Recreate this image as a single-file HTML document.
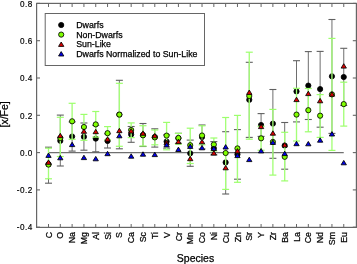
<!DOCTYPE html>
<html><head><meta charset="utf-8"><style>
html,body{margin:0;padding:0;background:#fff;width:357px;height:264px;overflow:hidden}
svg{display:block;will-change:transform}
text{font-family:"Liberation Sans",sans-serif;stroke:#000;stroke-width:0.25px}
</style></head><body><svg width="357" height="264" viewBox="0 0 357 264" font-family="Liberation Sans, sans-serif" fill="#000"><rect x="36.6" y="3.4" width="319.8" height="224" fill="none" stroke="#666" stroke-width="1.2"/><line x1="48.50" y1="227" x2="48.50" y2="224" stroke="#666" stroke-width="1"/><line x1="48.50" y1="4" x2="48.50" y2="7" stroke="#666" stroke-width="1"/><line x1="60.31" y1="227" x2="60.31" y2="224" stroke="#666" stroke-width="1"/><line x1="60.31" y1="4" x2="60.31" y2="7" stroke="#666" stroke-width="1"/><line x1="72.12" y1="227" x2="72.12" y2="224" stroke="#666" stroke-width="1"/><line x1="72.12" y1="4" x2="72.12" y2="7" stroke="#666" stroke-width="1"/><line x1="83.93" y1="227" x2="83.93" y2="224" stroke="#666" stroke-width="1"/><line x1="83.93" y1="4" x2="83.93" y2="7" stroke="#666" stroke-width="1"/><line x1="95.74" y1="227" x2="95.74" y2="224" stroke="#666" stroke-width="1"/><line x1="95.74" y1="4" x2="95.74" y2="7" stroke="#666" stroke-width="1"/><line x1="107.55" y1="227" x2="107.55" y2="224" stroke="#666" stroke-width="1"/><line x1="107.55" y1="4" x2="107.55" y2="7" stroke="#666" stroke-width="1"/><line x1="119.36" y1="227" x2="119.36" y2="224" stroke="#666" stroke-width="1"/><line x1="119.36" y1="4" x2="119.36" y2="7" stroke="#666" stroke-width="1"/><line x1="131.17" y1="227" x2="131.17" y2="224" stroke="#666" stroke-width="1"/><line x1="131.17" y1="4" x2="131.17" y2="7" stroke="#666" stroke-width="1"/><line x1="142.98" y1="227" x2="142.98" y2="224" stroke="#666" stroke-width="1"/><line x1="142.98" y1="4" x2="142.98" y2="7" stroke="#666" stroke-width="1"/><line x1="154.79" y1="227" x2="154.79" y2="224" stroke="#666" stroke-width="1"/><line x1="154.79" y1="4" x2="154.79" y2="7" stroke="#666" stroke-width="1"/><line x1="166.60" y1="227" x2="166.60" y2="224" stroke="#666" stroke-width="1"/><line x1="166.60" y1="4" x2="166.60" y2="7" stroke="#666" stroke-width="1"/><line x1="178.41" y1="227" x2="178.41" y2="224" stroke="#666" stroke-width="1"/><line x1="178.41" y1="4" x2="178.41" y2="7" stroke="#666" stroke-width="1"/><line x1="190.22" y1="227" x2="190.22" y2="224" stroke="#666" stroke-width="1"/><line x1="190.22" y1="4" x2="190.22" y2="7" stroke="#666" stroke-width="1"/><line x1="202.03" y1="227" x2="202.03" y2="224" stroke="#666" stroke-width="1"/><line x1="202.03" y1="4" x2="202.03" y2="7" stroke="#666" stroke-width="1"/><line x1="213.84" y1="227" x2="213.84" y2="224" stroke="#666" stroke-width="1"/><line x1="213.84" y1="4" x2="213.84" y2="7" stroke="#666" stroke-width="1"/><line x1="225.65" y1="227" x2="225.65" y2="224" stroke="#666" stroke-width="1"/><line x1="225.65" y1="4" x2="225.65" y2="7" stroke="#666" stroke-width="1"/><line x1="237.46" y1="227" x2="237.46" y2="224" stroke="#666" stroke-width="1"/><line x1="237.46" y1="4" x2="237.46" y2="7" stroke="#666" stroke-width="1"/><line x1="249.27" y1="227" x2="249.27" y2="224" stroke="#666" stroke-width="1"/><line x1="249.27" y1="4" x2="249.27" y2="7" stroke="#666" stroke-width="1"/><line x1="261.08" y1="227" x2="261.08" y2="224" stroke="#666" stroke-width="1"/><line x1="261.08" y1="4" x2="261.08" y2="7" stroke="#666" stroke-width="1"/><line x1="272.89" y1="227" x2="272.89" y2="224" stroke="#666" stroke-width="1"/><line x1="272.89" y1="4" x2="272.89" y2="7" stroke="#666" stroke-width="1"/><line x1="284.70" y1="227" x2="284.70" y2="224" stroke="#666" stroke-width="1"/><line x1="284.70" y1="4" x2="284.70" y2="7" stroke="#666" stroke-width="1"/><line x1="296.51" y1="227" x2="296.51" y2="224" stroke="#666" stroke-width="1"/><line x1="296.51" y1="4" x2="296.51" y2="7" stroke="#666" stroke-width="1"/><line x1="308.32" y1="227" x2="308.32" y2="224" stroke="#666" stroke-width="1"/><line x1="308.32" y1="4" x2="308.32" y2="7" stroke="#666" stroke-width="1"/><line x1="320.13" y1="227" x2="320.13" y2="224" stroke="#666" stroke-width="1"/><line x1="320.13" y1="4" x2="320.13" y2="7" stroke="#666" stroke-width="1"/><line x1="331.94" y1="227" x2="331.94" y2="224" stroke="#666" stroke-width="1"/><line x1="331.94" y1="4" x2="331.94" y2="7" stroke="#666" stroke-width="1"/><line x1="343.75" y1="227" x2="343.75" y2="224" stroke="#666" stroke-width="1"/><line x1="343.75" y1="4" x2="343.75" y2="7" stroke="#666" stroke-width="1"/><line x1="37" y1="3.40" x2="40" y2="3.40" stroke="#666" stroke-width="1.1"/><line x1="356" y1="3.40" x2="352.8" y2="3.40" stroke="#666" stroke-width="1.1"/><line x1="37" y1="40.70" x2="40" y2="40.70" stroke="#666" stroke-width="1.1"/><line x1="356" y1="40.70" x2="352.8" y2="40.70" stroke="#666" stroke-width="1.1"/><line x1="37" y1="78.00" x2="40" y2="78.00" stroke="#666" stroke-width="1.1"/><line x1="356" y1="78.00" x2="352.8" y2="78.00" stroke="#666" stroke-width="1.1"/><line x1="37" y1="115.30" x2="40" y2="115.30" stroke="#666" stroke-width="1.1"/><line x1="356" y1="115.30" x2="352.8" y2="115.30" stroke="#666" stroke-width="1.1"/><line x1="37" y1="152.60" x2="40" y2="152.60" stroke="#666" stroke-width="1.1"/><line x1="356" y1="152.60" x2="352.8" y2="152.60" stroke="#666" stroke-width="1.1"/><line x1="37" y1="189.90" x2="40" y2="189.90" stroke="#666" stroke-width="1.1"/><line x1="356" y1="189.90" x2="352.8" y2="189.90" stroke="#666" stroke-width="1.1"/><line x1="37" y1="227.20" x2="40" y2="227.20" stroke="#666" stroke-width="1.1"/><line x1="356" y1="227.20" x2="352.8" y2="227.20" stroke="#666" stroke-width="1.1"/><rect x="45.2" y="13.5" width="159.3" height="52" fill="#fff" stroke="#666" stroke-width="1"/><circle cx="61.20" cy="25.00" r="2.6" fill="#000" stroke="#000" stroke-width="0.85"/><circle cx="61.20" cy="34.60" r="2.6" fill="#80ff00" stroke="#000" stroke-width="0.85"/><polygon points="58.55,46.40 63.85,46.40 61.20,42.00" fill="#dd0000" stroke="#000" stroke-width="0.85"/><polygon points="58.55,56.00 63.85,56.00 61.20,51.60" fill="#0000e8" stroke="#000" stroke-width="0.85"/><text x="76.2" y="27.9" font-size="8.8">Dwarfs</text><text x="76.2" y="37.6" font-size="8.8">Non-Dwarfs</text><text x="76.2" y="47.4" font-size="8.8">Sun-Like</text><text x="76.2" y="57.1" font-size="8.8">Dwarfs Normalized to Sun-Like</text><line x1="48.50" y1="152.7" x2="343.75" y2="152.7" stroke="#707070" stroke-width="1.3"/><line x1="48.50" y1="147.20" x2="48.50" y2="183.20" stroke="#6e6e6e" stroke-width="1.0"/><line x1="45.00" y1="147.20" x2="52.00" y2="147.20" stroke="#606060" stroke-width="1.1"/><line x1="45.00" y1="183.20" x2="52.00" y2="183.20" stroke="#606060" stroke-width="1.1"/><circle cx="48.50" cy="164.20" r="2.6" fill="#000" stroke="#000" stroke-width="0.85"/><line x1="60.31" y1="115.10" x2="60.31" y2="166.00" stroke="#6e6e6e" stroke-width="1.0"/><line x1="56.81" y1="115.10" x2="63.81" y2="115.10" stroke="#606060" stroke-width="1.1"/><line x1="56.81" y1="166.00" x2="63.81" y2="166.00" stroke="#606060" stroke-width="1.1"/><circle cx="60.31" cy="140.80" r="2.6" fill="#000" stroke="#000" stroke-width="0.85"/><line x1="72.12" y1="121.90" x2="72.12" y2="151.10" stroke="#6e6e6e" stroke-width="1.0"/><line x1="68.62" y1="121.90" x2="75.62" y2="121.90" stroke="#606060" stroke-width="1.1"/><line x1="68.62" y1="151.10" x2="75.62" y2="151.10" stroke="#606060" stroke-width="1.1"/><circle cx="72.12" cy="136.50" r="2.6" fill="#000" stroke="#000" stroke-width="0.85"/><line x1="83.93" y1="123.00" x2="83.93" y2="150.20" stroke="#6e6e6e" stroke-width="1.0"/><line x1="80.43" y1="123.00" x2="87.43" y2="123.00" stroke="#606060" stroke-width="1.1"/><line x1="80.43" y1="150.20" x2="87.43" y2="150.20" stroke="#606060" stroke-width="1.1"/><circle cx="83.93" cy="136.80" r="2.6" fill="#000" stroke="#000" stroke-width="0.85"/><line x1="95.74" y1="125.40" x2="95.74" y2="151.80" stroke="#6e6e6e" stroke-width="1.0"/><line x1="92.24" y1="125.40" x2="99.24" y2="125.40" stroke="#606060" stroke-width="1.1"/><line x1="92.24" y1="151.80" x2="99.24" y2="151.80" stroke="#606060" stroke-width="1.1"/><circle cx="95.74" cy="138.60" r="2.6" fill="#000" stroke="#000" stroke-width="0.85"/><line x1="107.55" y1="133.80" x2="107.55" y2="148.00" stroke="#6e6e6e" stroke-width="1.0"/><line x1="104.05" y1="133.80" x2="111.05" y2="133.80" stroke="#606060" stroke-width="1.1"/><line x1="104.05" y1="148.00" x2="111.05" y2="148.00" stroke="#606060" stroke-width="1.1"/><circle cx="107.55" cy="140.90" r="2.6" fill="#000" stroke="#000" stroke-width="0.85"/><line x1="119.36" y1="80.30" x2="119.36" y2="148.80" stroke="#6e6e6e" stroke-width="1.0"/><line x1="115.86" y1="80.30" x2="122.86" y2="80.30" stroke="#606060" stroke-width="1.1"/><line x1="115.86" y1="148.80" x2="122.86" y2="148.80" stroke="#606060" stroke-width="1.1"/><circle cx="119.36" cy="114.60" r="2.6" fill="#000" stroke="#000" stroke-width="0.85"/><line x1="131.17" y1="126.50" x2="131.17" y2="142.30" stroke="#6e6e6e" stroke-width="1.0"/><line x1="127.67" y1="126.50" x2="134.67" y2="126.50" stroke="#606060" stroke-width="1.1"/><line x1="127.67" y1="142.30" x2="134.67" y2="142.30" stroke="#606060" stroke-width="1.1"/><circle cx="131.17" cy="134.40" r="2.6" fill="#000" stroke="#000" stroke-width="0.85"/><line x1="142.98" y1="123.50" x2="142.98" y2="146.50" stroke="#6e6e6e" stroke-width="1.0"/><line x1="139.48" y1="123.50" x2="146.48" y2="123.50" stroke="#606060" stroke-width="1.1"/><line x1="139.48" y1="146.50" x2="146.48" y2="146.50" stroke="#606060" stroke-width="1.1"/><circle cx="142.98" cy="135.00" r="2.6" fill="#000" stroke="#000" stroke-width="0.85"/><line x1="154.79" y1="128.80" x2="154.79" y2="147.10" stroke="#6e6e6e" stroke-width="1.0"/><line x1="151.29" y1="128.80" x2="158.29" y2="128.80" stroke="#606060" stroke-width="1.1"/><line x1="151.29" y1="147.10" x2="158.29" y2="147.10" stroke="#606060" stroke-width="1.1"/><circle cx="154.79" cy="137.00" r="2.6" fill="#000" stroke="#000" stroke-width="0.85"/><line x1="166.60" y1="134.90" x2="166.60" y2="148.10" stroke="#6e6e6e" stroke-width="1.0"/><line x1="163.10" y1="134.90" x2="170.10" y2="134.90" stroke="#606060" stroke-width="1.1"/><line x1="163.10" y1="148.10" x2="170.10" y2="148.10" stroke="#606060" stroke-width="1.1"/><circle cx="166.60" cy="141.50" r="2.6" fill="#000" stroke="#000" stroke-width="0.85"/><line x1="178.41" y1="133.30" x2="178.41" y2="143.30" stroke="#6e6e6e" stroke-width="1.0"/><line x1="174.91" y1="133.30" x2="181.91" y2="133.30" stroke="#606060" stroke-width="1.1"/><line x1="174.91" y1="143.30" x2="181.91" y2="143.30" stroke="#606060" stroke-width="1.1"/><circle cx="178.41" cy="138.20" r="2.6" fill="#000" stroke="#000" stroke-width="0.85"/><line x1="190.22" y1="140.10" x2="190.22" y2="166.30" stroke="#6e6e6e" stroke-width="1.0"/><line x1="186.72" y1="140.10" x2="193.72" y2="140.10" stroke="#606060" stroke-width="1.1"/><line x1="186.72" y1="166.30" x2="193.72" y2="166.30" stroke="#606060" stroke-width="1.1"/><circle cx="190.22" cy="153.30" r="2.6" fill="#000" stroke="#000" stroke-width="0.85"/><line x1="202.03" y1="125.00" x2="202.03" y2="149.00" stroke="#6e6e6e" stroke-width="1.0"/><line x1="198.53" y1="125.00" x2="205.53" y2="125.00" stroke="#606060" stroke-width="1.1"/><line x1="198.53" y1="149.00" x2="205.53" y2="149.00" stroke="#606060" stroke-width="1.1"/><circle cx="202.03" cy="137.00" r="2.6" fill="#000" stroke="#000" stroke-width="0.85"/><line x1="213.84" y1="141.60" x2="213.84" y2="154.90" stroke="#6e6e6e" stroke-width="1.0"/><line x1="210.34" y1="141.60" x2="217.34" y2="141.60" stroke="#606060" stroke-width="1.1"/><line x1="210.34" y1="154.90" x2="217.34" y2="154.90" stroke="#606060" stroke-width="1.1"/><circle cx="213.84" cy="148.30" r="2.6" fill="#000" stroke="#000" stroke-width="0.85"/><line x1="225.65" y1="131.70" x2="225.65" y2="194.00" stroke="#6e6e6e" stroke-width="1.0"/><line x1="222.15" y1="131.70" x2="229.15" y2="131.70" stroke="#606060" stroke-width="1.1"/><line x1="222.15" y1="194.00" x2="229.15" y2="194.00" stroke="#606060" stroke-width="1.1"/><circle cx="225.65" cy="162.40" r="2.6" fill="#000" stroke="#000" stroke-width="0.85"/><line x1="237.46" y1="129.60" x2="237.46" y2="179.20" stroke="#6e6e6e" stroke-width="1.0"/><line x1="233.96" y1="129.60" x2="240.96" y2="129.60" stroke="#606060" stroke-width="1.1"/><line x1="233.96" y1="179.20" x2="240.96" y2="179.20" stroke="#606060" stroke-width="1.1"/><circle cx="237.46" cy="154.40" r="2.6" fill="#000" stroke="#000" stroke-width="0.85"/><line x1="249.27" y1="62.30" x2="249.27" y2="137.40" stroke="#6e6e6e" stroke-width="1.0"/><line x1="245.77" y1="62.30" x2="252.77" y2="62.30" stroke="#606060" stroke-width="1.1"/><line x1="245.77" y1="137.40" x2="252.77" y2="137.40" stroke="#606060" stroke-width="1.1"/><circle cx="249.27" cy="99.80" r="2.6" fill="#000" stroke="#000" stroke-width="0.85"/><line x1="261.08" y1="113.60" x2="261.08" y2="136.40" stroke="#6e6e6e" stroke-width="1.0"/><line x1="257.58" y1="113.60" x2="264.58" y2="113.60" stroke="#606060" stroke-width="1.1"/><line x1="257.58" y1="136.40" x2="264.58" y2="136.40" stroke="#606060" stroke-width="1.1"/><circle cx="261.08" cy="125.00" r="2.6" fill="#000" stroke="#000" stroke-width="0.85"/><line x1="272.89" y1="89.50" x2="272.89" y2="158.30" stroke="#6e6e6e" stroke-width="1.0"/><line x1="269.39" y1="89.50" x2="276.39" y2="89.50" stroke="#606060" stroke-width="1.1"/><line x1="269.39" y1="158.30" x2="276.39" y2="158.30" stroke="#606060" stroke-width="1.1"/><circle cx="272.89" cy="123.60" r="2.6" fill="#000" stroke="#000" stroke-width="0.85"/><line x1="284.70" y1="122.50" x2="284.70" y2="169.20" stroke="#6e6e6e" stroke-width="1.0"/><line x1="281.20" y1="122.50" x2="288.20" y2="122.50" stroke="#606060" stroke-width="1.1"/><line x1="281.20" y1="169.20" x2="288.20" y2="169.20" stroke="#606060" stroke-width="1.1"/><circle cx="284.70" cy="145.50" r="2.6" fill="#000" stroke="#000" stroke-width="0.85"/><line x1="296.51" y1="60.70" x2="296.51" y2="121.90" stroke="#6e6e6e" stroke-width="1.0"/><line x1="293.01" y1="60.70" x2="300.01" y2="60.70" stroke="#606060" stroke-width="1.1"/><line x1="293.01" y1="121.90" x2="300.01" y2="121.90" stroke="#606060" stroke-width="1.1"/><circle cx="296.51" cy="91.40" r="2.6" fill="#000" stroke="#000" stroke-width="0.85"/><line x1="308.32" y1="51.60" x2="308.32" y2="119.50" stroke="#6e6e6e" stroke-width="1.0"/><line x1="304.82" y1="51.60" x2="311.82" y2="51.60" stroke="#606060" stroke-width="1.1"/><line x1="304.82" y1="119.50" x2="311.82" y2="119.50" stroke="#606060" stroke-width="1.1"/><circle cx="308.32" cy="85.60" r="2.6" fill="#000" stroke="#000" stroke-width="0.85"/><line x1="320.13" y1="51.40" x2="320.13" y2="127.20" stroke="#6e6e6e" stroke-width="1.0"/><line x1="316.63" y1="51.40" x2="323.63" y2="51.40" stroke="#606060" stroke-width="1.1"/><line x1="316.63" y1="127.20" x2="323.63" y2="127.20" stroke="#606060" stroke-width="1.1"/><circle cx="320.13" cy="89.10" r="2.6" fill="#000" stroke="#000" stroke-width="0.85"/><line x1="331.94" y1="19.50" x2="331.94" y2="133.40" stroke="#6e6e6e" stroke-width="1.0"/><line x1="328.44" y1="19.50" x2="335.44" y2="19.50" stroke="#606060" stroke-width="1.1"/><line x1="328.44" y1="133.40" x2="335.44" y2="133.40" stroke="#606060" stroke-width="1.1"/><circle cx="331.94" cy="76.30" r="2.6" fill="#000" stroke="#000" stroke-width="0.85"/><line x1="343.75" y1="48.30" x2="343.75" y2="105.50" stroke="#6e6e6e" stroke-width="1.0"/><line x1="340.25" y1="48.30" x2="347.25" y2="48.30" stroke="#606060" stroke-width="1.1"/><line x1="340.25" y1="105.50" x2="347.25" y2="105.50" stroke="#606060" stroke-width="1.1"/><circle cx="343.75" cy="77.00" r="2.6" fill="#000" stroke="#000" stroke-width="0.85"/><line x1="48.50" y1="148.20" x2="48.50" y2="178.80" stroke="#a4ff78" stroke-width="1.35"/><line x1="45.00" y1="148.20" x2="52.00" y2="148.20" stroke="#9cff6c" stroke-width="1.2"/><line x1="45.00" y1="178.80" x2="52.00" y2="178.80" stroke="#9cff6c" stroke-width="1.2"/><circle cx="48.50" cy="164.60" r="2.6" fill="#80ff00" stroke="#000" stroke-width="0.85"/><line x1="60.31" y1="117.30" x2="60.31" y2="156.50" stroke="#a4ff78" stroke-width="1.35"/><line x1="56.81" y1="117.30" x2="63.81" y2="117.30" stroke="#9cff6c" stroke-width="1.2"/><line x1="56.81" y1="156.50" x2="63.81" y2="156.50" stroke="#9cff6c" stroke-width="1.2"/><circle cx="60.31" cy="138.00" r="2.6" fill="#80ff00" stroke="#000" stroke-width="0.85"/><line x1="72.12" y1="103.30" x2="72.12" y2="139.30" stroke="#a4ff78" stroke-width="1.35"/><line x1="68.62" y1="103.30" x2="75.62" y2="103.30" stroke="#9cff6c" stroke-width="1.2"/><line x1="68.62" y1="139.30" x2="75.62" y2="139.30" stroke="#9cff6c" stroke-width="1.2"/><circle cx="72.12" cy="121.30" r="2.6" fill="#80ff00" stroke="#000" stroke-width="0.85"/><line x1="83.93" y1="114.40" x2="83.93" y2="140.30" stroke="#a4ff78" stroke-width="1.35"/><line x1="80.43" y1="114.40" x2="87.43" y2="114.40" stroke="#9cff6c" stroke-width="1.2"/><line x1="80.43" y1="140.30" x2="87.43" y2="140.30" stroke="#9cff6c" stroke-width="1.2"/><circle cx="83.93" cy="127.00" r="2.6" fill="#80ff00" stroke="#000" stroke-width="0.85"/><line x1="95.74" y1="111.50" x2="95.74" y2="137.10" stroke="#a4ff78" stroke-width="1.35"/><line x1="92.24" y1="111.50" x2="99.24" y2="111.50" stroke="#9cff6c" stroke-width="1.2"/><line x1="92.24" y1="137.10" x2="99.24" y2="137.10" stroke="#9cff6c" stroke-width="1.2"/><circle cx="95.74" cy="124.40" r="2.6" fill="#80ff00" stroke="#000" stroke-width="0.85"/><line x1="107.55" y1="126.60" x2="107.55" y2="139.80" stroke="#a4ff78" stroke-width="1.35"/><line x1="104.05" y1="126.60" x2="111.05" y2="126.60" stroke="#9cff6c" stroke-width="1.2"/><line x1="104.05" y1="139.80" x2="111.05" y2="139.80" stroke="#9cff6c" stroke-width="1.2"/><circle cx="107.55" cy="133.20" r="2.6" fill="#80ff00" stroke="#000" stroke-width="0.85"/><line x1="119.36" y1="83.30" x2="119.36" y2="146.30" stroke="#a4ff78" stroke-width="1.35"/><line x1="115.86" y1="83.30" x2="122.86" y2="83.30" stroke="#9cff6c" stroke-width="1.2"/><line x1="115.86" y1="146.30" x2="122.86" y2="146.30" stroke="#9cff6c" stroke-width="1.2"/><circle cx="119.36" cy="114.60" r="2.6" fill="#80ff00" stroke="#000" stroke-width="0.85"/><line x1="131.17" y1="122.90" x2="131.17" y2="137.60" stroke="#a4ff78" stroke-width="1.35"/><line x1="127.67" y1="122.90" x2="134.67" y2="122.90" stroke="#9cff6c" stroke-width="1.2"/><line x1="127.67" y1="137.60" x2="134.67" y2="137.60" stroke="#9cff6c" stroke-width="1.2"/><circle cx="131.17" cy="130.00" r="2.6" fill="#80ff00" stroke="#000" stroke-width="0.85"/><line x1="142.98" y1="125.70" x2="142.98" y2="146.00" stroke="#a4ff78" stroke-width="1.35"/><line x1="139.48" y1="125.70" x2="146.48" y2="125.70" stroke="#9cff6c" stroke-width="1.2"/><line x1="139.48" y1="146.00" x2="146.48" y2="146.00" stroke="#9cff6c" stroke-width="1.2"/><circle cx="142.98" cy="135.30" r="2.6" fill="#80ff00" stroke="#000" stroke-width="0.85"/><line x1="154.79" y1="130.00" x2="154.79" y2="144.80" stroke="#a4ff78" stroke-width="1.35"/><line x1="151.29" y1="130.00" x2="158.29" y2="130.00" stroke="#9cff6c" stroke-width="1.2"/><line x1="151.29" y1="144.80" x2="158.29" y2="144.80" stroke="#9cff6c" stroke-width="1.2"/><circle cx="154.79" cy="137.40" r="2.6" fill="#80ff00" stroke="#000" stroke-width="0.85"/><line x1="166.60" y1="122.40" x2="166.60" y2="149.80" stroke="#a4ff78" stroke-width="1.35"/><line x1="163.10" y1="122.40" x2="170.10" y2="122.40" stroke="#9cff6c" stroke-width="1.2"/><line x1="163.10" y1="149.80" x2="170.10" y2="149.80" stroke="#9cff6c" stroke-width="1.2"/><circle cx="166.60" cy="135.60" r="2.6" fill="#80ff00" stroke="#000" stroke-width="0.85"/><line x1="178.41" y1="133.40" x2="178.41" y2="144.20" stroke="#a4ff78" stroke-width="1.35"/><line x1="174.91" y1="133.40" x2="181.91" y2="133.40" stroke="#9cff6c" stroke-width="1.2"/><line x1="174.91" y1="144.20" x2="181.91" y2="144.20" stroke="#9cff6c" stroke-width="1.2"/><circle cx="178.41" cy="138.00" r="2.6" fill="#80ff00" stroke="#000" stroke-width="0.85"/><line x1="190.22" y1="128.20" x2="190.22" y2="163.50" stroke="#a4ff78" stroke-width="1.35"/><line x1="186.72" y1="128.20" x2="193.72" y2="128.20" stroke="#9cff6c" stroke-width="1.2"/><line x1="186.72" y1="163.50" x2="193.72" y2="163.50" stroke="#9cff6c" stroke-width="1.2"/><circle cx="190.22" cy="145.20" r="2.6" fill="#80ff00" stroke="#000" stroke-width="0.85"/><line x1="202.03" y1="125.80" x2="202.03" y2="144.80" stroke="#a4ff78" stroke-width="1.35"/><line x1="198.53" y1="125.80" x2="205.53" y2="125.80" stroke="#9cff6c" stroke-width="1.2"/><line x1="198.53" y1="144.80" x2="205.53" y2="144.80" stroke="#9cff6c" stroke-width="1.2"/><circle cx="202.03" cy="135.50" r="2.6" fill="#80ff00" stroke="#000" stroke-width="0.85"/><line x1="213.84" y1="138.00" x2="213.84" y2="151.00" stroke="#a4ff78" stroke-width="1.35"/><line x1="210.34" y1="138.00" x2="217.34" y2="138.00" stroke="#9cff6c" stroke-width="1.2"/><line x1="210.34" y1="151.00" x2="217.34" y2="151.00" stroke="#9cff6c" stroke-width="1.2"/><circle cx="213.84" cy="144.50" r="2.6" fill="#80ff00" stroke="#000" stroke-width="0.85"/><line x1="225.65" y1="117.50" x2="225.65" y2="189.40" stroke="#a4ff78" stroke-width="1.35"/><line x1="222.15" y1="117.50" x2="229.15" y2="117.50" stroke="#9cff6c" stroke-width="1.2"/><line x1="222.15" y1="189.40" x2="229.15" y2="189.40" stroke="#9cff6c" stroke-width="1.2"/><circle cx="225.65" cy="153.00" r="2.6" fill="#80ff00" stroke="#000" stroke-width="0.85"/><line x1="237.46" y1="115.40" x2="237.46" y2="182.30" stroke="#a4ff78" stroke-width="1.35"/><line x1="233.96" y1="115.40" x2="240.96" y2="115.40" stroke="#9cff6c" stroke-width="1.2"/><line x1="233.96" y1="182.30" x2="240.96" y2="182.30" stroke="#9cff6c" stroke-width="1.2"/><circle cx="237.46" cy="148.40" r="2.6" fill="#80ff00" stroke="#000" stroke-width="0.85"/><line x1="249.27" y1="52.20" x2="249.27" y2="139.20" stroke="#a4ff78" stroke-width="1.35"/><line x1="245.77" y1="52.20" x2="252.77" y2="52.20" stroke="#9cff6c" stroke-width="1.2"/><line x1="245.77" y1="139.20" x2="252.77" y2="139.20" stroke="#9cff6c" stroke-width="1.2"/><circle cx="249.27" cy="96.00" r="2.6" fill="#80ff00" stroke="#000" stroke-width="0.85"/><line x1="261.08" y1="126.30" x2="261.08" y2="150.30" stroke="#a4ff78" stroke-width="1.35"/><line x1="257.58" y1="126.30" x2="264.58" y2="126.30" stroke="#9cff6c" stroke-width="1.2"/><line x1="257.58" y1="150.30" x2="264.58" y2="150.30" stroke="#9cff6c" stroke-width="1.2"/><circle cx="261.08" cy="138.30" r="2.6" fill="#80ff00" stroke="#000" stroke-width="0.85"/><line x1="272.89" y1="109.40" x2="272.89" y2="175.10" stroke="#a4ff78" stroke-width="1.35"/><line x1="269.39" y1="109.40" x2="276.39" y2="109.40" stroke="#9cff6c" stroke-width="1.2"/><line x1="269.39" y1="175.10" x2="276.39" y2="175.10" stroke="#9cff6c" stroke-width="1.2"/><circle cx="272.89" cy="141.90" r="2.6" fill="#80ff00" stroke="#000" stroke-width="0.85"/><line x1="284.70" y1="132.30" x2="284.70" y2="180.90" stroke="#a4ff78" stroke-width="1.35"/><line x1="281.20" y1="132.30" x2="288.20" y2="132.30" stroke="#9cff6c" stroke-width="1.2"/><line x1="281.20" y1="180.90" x2="288.20" y2="180.90" stroke="#9cff6c" stroke-width="1.2"/><circle cx="284.70" cy="156.80" r="2.6" fill="#80ff00" stroke="#000" stroke-width="0.85"/><line x1="296.51" y1="88.30" x2="296.51" y2="141.00" stroke="#a4ff78" stroke-width="1.35"/><line x1="293.01" y1="88.30" x2="300.01" y2="88.30" stroke="#9cff6c" stroke-width="1.2"/><line x1="293.01" y1="141.00" x2="300.01" y2="141.00" stroke="#9cff6c" stroke-width="1.2"/><circle cx="296.51" cy="114.60" r="2.6" fill="#80ff00" stroke="#000" stroke-width="0.85"/><line x1="308.32" y1="88.50" x2="308.32" y2="131.80" stroke="#a4ff78" stroke-width="1.35"/><line x1="304.82" y1="88.50" x2="311.82" y2="88.50" stroke="#9cff6c" stroke-width="1.2"/><line x1="304.82" y1="131.80" x2="311.82" y2="131.80" stroke="#9cff6c" stroke-width="1.2"/><circle cx="308.32" cy="110.20" r="2.6" fill="#80ff00" stroke="#000" stroke-width="0.85"/><line x1="320.13" y1="94.60" x2="320.13" y2="137.40" stroke="#a4ff78" stroke-width="1.35"/><line x1="316.63" y1="94.60" x2="323.63" y2="94.60" stroke="#9cff6c" stroke-width="1.2"/><line x1="316.63" y1="137.40" x2="323.63" y2="137.40" stroke="#9cff6c" stroke-width="1.2"/><circle cx="320.13" cy="115.70" r="2.6" fill="#80ff00" stroke="#000" stroke-width="0.85"/><line x1="331.94" y1="38.40" x2="331.94" y2="150.40" stroke="#a4ff78" stroke-width="1.35"/><line x1="328.44" y1="38.40" x2="335.44" y2="38.40" stroke="#9cff6c" stroke-width="1.2"/><line x1="328.44" y1="150.40" x2="335.44" y2="150.40" stroke="#9cff6c" stroke-width="1.2"/><circle cx="331.94" cy="94.40" r="2.6" fill="#80ff00" stroke="#000" stroke-width="0.85"/><line x1="343.75" y1="82.20" x2="343.75" y2="126.10" stroke="#a4ff78" stroke-width="1.35"/><line x1="340.25" y1="82.20" x2="347.25" y2="82.20" stroke="#9cff6c" stroke-width="1.2"/><line x1="340.25" y1="126.10" x2="347.25" y2="126.10" stroke="#9cff6c" stroke-width="1.2"/><circle cx="343.75" cy="104.10" r="2.6" fill="#80ff00" stroke="#000" stroke-width="0.85"/><polygon points="45.85,164.30 51.15,164.30 48.50,159.90" fill="#dd0000" stroke="#000" stroke-width="0.85"/><polygon points="57.66,137.70 62.96,137.70 60.31,133.30" fill="#dd0000" stroke="#000" stroke-width="0.85"/><polygon points="81.28,133.30 86.58,133.30 83.93,128.90" fill="#dd0000" stroke="#000" stroke-width="0.85"/><polygon points="93.09,133.70 98.39,133.70 95.74,129.30" fill="#dd0000" stroke="#000" stroke-width="0.85"/><polygon points="104.90,141.20 110.20,141.20 107.55,136.80" fill="#dd0000" stroke="#000" stroke-width="0.85"/><polygon points="116.71,132.70 122.01,132.70 119.36,128.30" fill="#dd0000" stroke="#000" stroke-width="0.85"/><polygon points="128.52,133.00 133.82,133.00 131.17,128.60" fill="#dd0000" stroke="#000" stroke-width="0.85"/><polygon points="140.33,135.30 145.63,135.30 142.98,130.90" fill="#dd0000" stroke="#000" stroke-width="0.85"/><polygon points="152.14,137.80 157.44,137.80 154.79,133.40" fill="#dd0000" stroke="#000" stroke-width="0.85"/><polygon points="163.95,144.70 169.25,144.70 166.60,140.30" fill="#dd0000" stroke="#000" stroke-width="0.85"/><polygon points="175.76,143.70 181.06,143.70 178.41,139.30" fill="#dd0000" stroke="#000" stroke-width="0.85"/><polygon points="187.57,160.70 192.87,160.70 190.22,156.30" fill="#dd0000" stroke="#000" stroke-width="0.85"/><polygon points="199.38,143.80 204.68,143.80 202.03,139.40" fill="#dd0000" stroke="#000" stroke-width="0.85"/><polygon points="211.19,155.10 216.49,155.10 213.84,150.70" fill="#dd0000" stroke="#000" stroke-width="0.85"/><polygon points="223.00,169.80 228.30,169.80 225.65,165.40" fill="#dd0000" stroke="#000" stroke-width="0.85"/><polygon points="234.81,153.00 240.11,153.00 237.46,148.60" fill="#dd0000" stroke="#000" stroke-width="0.85"/><polygon points="246.62,94.40 251.92,94.40 249.27,90.00" fill="#dd0000" stroke="#000" stroke-width="0.85"/><polygon points="258.43,128.60 263.73,128.60 261.08,124.20" fill="#dd0000" stroke="#000" stroke-width="0.85"/><polygon points="270.24,135.20 275.54,135.20 272.89,130.80" fill="#dd0000" stroke="#000" stroke-width="0.85"/><polygon points="282.05,147.00 287.35,147.00 284.70,142.60" fill="#dd0000" stroke="#000" stroke-width="0.85"/><polygon points="293.86,101.60 299.16,101.60 296.51,97.20" fill="#dd0000" stroke="#000" stroke-width="0.85"/><polygon points="305.67,95.60 310.97,95.60 308.32,91.20" fill="#dd0000" stroke="#000" stroke-width="0.85"/><polygon points="317.48,102.80 322.78,102.80 320.13,98.40" fill="#dd0000" stroke="#000" stroke-width="0.85"/><polygon points="329.29,96.20 334.59,96.20 331.94,91.80" fill="#dd0000" stroke="#000" stroke-width="0.85"/><polygon points="341.10,68.10 346.40,68.10 343.75,63.70" fill="#dd0000" stroke="#000" stroke-width="0.85"/><polygon points="45.85,157.40 51.15,157.40 48.50,153.00" fill="#0000e8" stroke="#000" stroke-width="0.85"/><polygon points="57.66,159.80 62.96,159.80 60.31,155.40" fill="#0000e8" stroke="#000" stroke-width="0.85"/><polygon points="69.47,146.60 74.77,146.60 72.12,142.20" fill="#0000e8" stroke="#000" stroke-width="0.85"/><polygon points="81.28,159.60 86.58,159.60 83.93,155.20" fill="#0000e8" stroke="#000" stroke-width="0.85"/><polygon points="93.09,160.80 98.39,160.80 95.74,156.40" fill="#0000e8" stroke="#000" stroke-width="0.85"/><polygon points="104.90,155.70 110.20,155.70 107.55,151.30" fill="#0000e8" stroke="#000" stroke-width="0.85"/><polygon points="116.71,137.80 122.01,137.80 119.36,133.40" fill="#0000e8" stroke="#000" stroke-width="0.85"/><polygon points="128.52,158.20 133.82,158.20 131.17,153.80" fill="#0000e8" stroke="#000" stroke-width="0.85"/><polygon points="140.33,156.20 145.63,156.20 142.98,151.80" fill="#0000e8" stroke="#000" stroke-width="0.85"/><polygon points="152.14,156.60 157.44,156.60 154.79,152.20" fill="#0000e8" stroke="#000" stroke-width="0.85"/><polygon points="163.95,146.90 169.25,146.90 166.60,142.50" fill="#0000e8" stroke="#000" stroke-width="0.85"/><polygon points="175.76,151.50 181.06,151.50 178.41,147.10" fill="#0000e8" stroke="#000" stroke-width="0.85"/><polygon points="187.57,148.40 192.87,148.40 190.22,144.00" fill="#0000e8" stroke="#000" stroke-width="0.85"/><polygon points="199.38,149.80 204.68,149.80 202.03,145.40" fill="#0000e8" stroke="#000" stroke-width="0.85"/><polygon points="211.19,150.50 216.49,150.50 213.84,146.10" fill="#0000e8" stroke="#000" stroke-width="0.85"/><polygon points="223.00,149.00 228.30,149.00 225.65,144.60" fill="#0000e8" stroke="#000" stroke-width="0.85"/><polygon points="234.81,157.60 240.11,157.60 237.46,153.20" fill="#0000e8" stroke="#000" stroke-width="0.85"/><polygon points="246.62,161.60 251.92,161.60 249.27,157.20" fill="#0000e8" stroke="#000" stroke-width="0.85"/><polygon points="258.43,152.90 263.73,152.90 261.08,148.50" fill="#0000e8" stroke="#000" stroke-width="0.85"/><polygon points="270.24,144.40 275.54,144.40 272.89,140.00" fill="#0000e8" stroke="#000" stroke-width="0.85"/><polygon points="282.05,155.60 287.35,155.60 284.70,151.20" fill="#0000e8" stroke="#000" stroke-width="0.85"/><polygon points="293.86,145.70 299.16,145.70 296.51,141.30" fill="#0000e8" stroke="#000" stroke-width="0.85"/><polygon points="305.67,145.80 310.97,145.80 308.32,141.40" fill="#0000e8" stroke="#000" stroke-width="0.85"/><polygon points="317.48,142.20 322.78,142.20 320.13,137.80" fill="#0000e8" stroke="#000" stroke-width="0.85"/><polygon points="329.29,136.00 334.59,136.00 331.94,131.60" fill="#0000e8" stroke="#000" stroke-width="0.85"/><polygon points="341.10,164.80 346.40,164.80 343.75,160.40" fill="#0000e8" stroke="#000" stroke-width="0.85"/><text transform="translate(32.9,6.60) scale(0.86,1)" text-anchor="end" font-size="9.5" letter-spacing="0.6" style="stroke-width:0.2px">0.8</text><text transform="translate(32.9,43.90) scale(0.86,1)" text-anchor="end" font-size="9.5" letter-spacing="0.6" style="stroke-width:0.2px">0.6</text><text transform="translate(32.9,81.20) scale(0.86,1)" text-anchor="end" font-size="9.5" letter-spacing="0.6" style="stroke-width:0.2px">0.4</text><text transform="translate(32.9,118.50) scale(0.86,1)" text-anchor="end" font-size="9.5" letter-spacing="0.6" style="stroke-width:0.2px">0.2</text><text transform="translate(32.9,155.80) scale(0.86,1)" text-anchor="end" font-size="9.5" letter-spacing="0.6" style="stroke-width:0.2px">0.0</text><text transform="translate(32.9,193.10) scale(0.86,1)" text-anchor="end" font-size="9.5" letter-spacing="0.6" style="stroke-width:0.2px">-0.2</text><text transform="translate(32.9,230.40) scale(0.86,1)" text-anchor="end" font-size="9.5" letter-spacing="0.6" style="stroke-width:0.2px">-0.4</text><text transform="translate(51.60,232) rotate(-90)" text-anchor="end" font-size="8.8">C</text><text transform="translate(63.41,232) rotate(-90)" text-anchor="end" font-size="8.8">O</text><text transform="translate(75.22,232) rotate(-90)" text-anchor="end" font-size="8.8">Na</text><text transform="translate(87.03,232) rotate(-90)" text-anchor="end" font-size="8.8">Mg</text><text transform="translate(98.84,232) rotate(-90)" text-anchor="end" font-size="8.8">Al</text><text transform="translate(110.65,232) rotate(-90)" text-anchor="end" font-size="8.8">Si</text><text transform="translate(122.46,232) rotate(-90)" text-anchor="end" font-size="8.8">S</text><text transform="translate(134.27,232) rotate(-90)" text-anchor="end" font-size="8.8">Ca</text><text transform="translate(146.08,232) rotate(-90)" text-anchor="end" font-size="8.8">Sc</text><text transform="translate(157.89,232) rotate(-90)" text-anchor="end" font-size="8.8">Ti</text><text transform="translate(169.70,232) rotate(-90)" text-anchor="end" font-size="8.8">V</text><text transform="translate(181.51,232) rotate(-90)" text-anchor="end" font-size="8.8">Cr</text><text transform="translate(193.32,232) rotate(-90)" text-anchor="end" font-size="8.8">Mn</text><text transform="translate(205.13,232) rotate(-90)" text-anchor="end" font-size="8.8">Co</text><text transform="translate(216.94,232) rotate(-90)" text-anchor="end" font-size="8.8">Ni</text><text transform="translate(228.75,232) rotate(-90)" text-anchor="end" font-size="8.8">Cu</text><text transform="translate(240.56,232) rotate(-90)" text-anchor="end" font-size="8.8">Zn</text><text transform="translate(252.37,232) rotate(-90)" text-anchor="end" font-size="8.8">Sr</text><text transform="translate(264.18,232) rotate(-90)" text-anchor="end" font-size="8.8">Y</text><text transform="translate(275.99,232) rotate(-90)" text-anchor="end" font-size="8.8">Zr</text><text transform="translate(287.80,232) rotate(-90)" text-anchor="end" font-size="8.8">Ba</text><text transform="translate(299.61,232) rotate(-90)" text-anchor="end" font-size="8.8">La</text><text transform="translate(311.42,232) rotate(-90)" text-anchor="end" font-size="8.8">Ce</text><text transform="translate(323.23,232) rotate(-90)" text-anchor="end" font-size="8.8">Nd</text><text transform="translate(335.04,232) rotate(-90)" text-anchor="end" font-size="8.8">Sm</text><text transform="translate(346.85,232) rotate(-90)" text-anchor="end" font-size="8.8">Eu</text><text x="195.5" y="261.5" text-anchor="middle" font-size="10.5">Species</text><text transform="translate(8.2,114.4) rotate(-90)" text-anchor="middle" font-size="10.5">[x/Fe]</text></svg></body></html>
